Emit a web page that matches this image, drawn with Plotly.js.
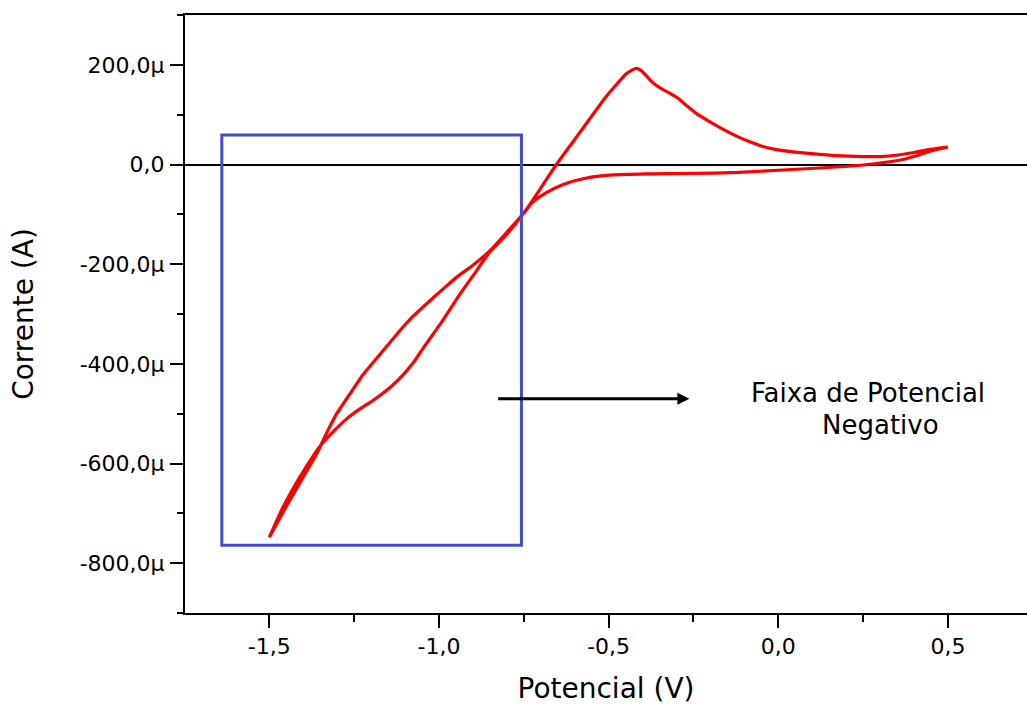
<!DOCTYPE html>
<html>
<head>
<meta charset="utf-8">
<script src="https://cdn.plot.ly/plotly-3.0.1.min.js"></script>
<style>html,body{margin:0;padding:0;background:#fff;}</style>
</head>
<body>
<div id="chart" style="width:1027px;height:709px;"></div>
<script>
// Forward (cathodic) sweep: 0.5 V -> -1.5 V
const forwardV = [0.5, 0.45, 0.40, 0.354, 0.30, 0.251, 0.148, 0.014, -0.119, -0.25, -0.387, -0.49, -0.572, -0.634, -0.685, -0.726, -0.753, -0.80, -0.851, -0.90, -0.94, -0.98, -1.018, -1.077, -1.126, -1.175, -1.224, -1.264, -1.303, -1.332, -1.36, -1.411, -1.46, -1.5];
const forwardI = [35, 27, 16, 8, 3, -1, -6, -11, -16, -18, -19, -21, -28, -40, -57, -77, -100, -136, -174, -202, -222, -245, -268, -305, -342, -382, -422, -462, -502, -540, -580, -640, -698, -748];
// Reverse (anodic) sweep: -1.5 V -> 0.5 V
const reverseV = [-1.5, -1.46, -1.411, -1.37, -1.342, -1.313, -1.273, -1.234, -1.20, -1.175, -1.14, -1.107, -1.075, -1.048, -0.998, -0.94, -0.89, -0.851, -0.80, -0.753, -0.726, -0.69, -0.654, -0.582, -0.51, -0.475, -0.448, -0.43, -0.418, -0.405, -0.39, -0.377, -0.36, -0.346, -0.32, -0.294, -0.27, -0.243, -0.20, -0.161, -0.12, -0.078, -0.04, -0.006, 0.05, 0.097, 0.17, 0.251, 0.30, 0.354, 0.40, 0.436, 0.498];
const reverseI = [-748, -688, -628, -584, -558, -537, -511, -491, -476, -464, -445, -423, -397, -370, -322, -262, -214, -176, -140, -100, -74, -37, 0, 67, 134, 162, 182, 190, 193, 189, 179, 169, 159, 153, 143, 132, 118, 103, 85, 70, 56, 44, 35, 30, 25, 22, 18, 16, 16, 19, 24, 29, 35];

// Axis ticks
const xTickVals = [-1.5, -1.0, -0.5, 0.0, 0.5];
const xTickText = ['-1,5', '-1,0', '-0,5', '0,0', '0,5'];
const xMinorVals = [-1.75, -1.25, -0.75, -0.25, 0.25, 0.75];
const yTickValsMicro = [200, 0, -200, -400, -600, -800];
const yTickText = ['200,0\u00b5', '0,0', '-200,0\u00b5', '-400,0\u00b5', '-600,0\u00b5', '-800,0\u00b5'];
const yMinorValsMicro = [300, 100, -100, -300, -500, -700, -900];

// Annotation content
const boxV = [-1.64, -0.757];
const boxIMicro = [-764, 59];
const arrowV = [-0.830, -0.262];
const arrowIMicro = -470;
const labelLines = ['Faixa de Potencial', 'Negativo'];

const U = 1e-6;
const xs = forwardV.concat(reverseV);
const ys = forwardI.concat(reverseI).map(v => v * U);

const FONT = 'DejaVu Sans, Arial, sans-serif';

const trace = {
  x: xs, y: ys, type: 'scatter', mode: 'lines',
  line: {color: '#ff0000', width: 3.2, shape: 'spline', smoothing: 0.5},
  hoverinfo: 'skip', showlegend: false
};

const layout = {
  width: 1027, height: 709,
  margin: {l: 185, r: 0, t: 15, b: 96, pad: 0},
  paper_bgcolor: '#ffffff', plot_bgcolor: '#ffffff',
  showlegend: false,
  font: {family: FONT, color: '#000000', size: 22},
  xaxis: {
    range: [-1.7485, 0.733],
    tickmode: 'array', tickvals: xTickVals, ticktext: xTickText,
    ticks: 'outside', ticklen: 13, tickwidth: 2, tickcolor: '#000',
    minor: {tickmode: 'array', tickvals: xMinorVals, ticks: 'outside', ticklen: 7, tickwidth: 2, tickcolor: '#000', showgrid: false},
    showline: true, linecolor: '#000', linewidth: 2, mirror: true,
    showgrid: false, zeroline: false,
    tickfont: {family: FONT, size: 22, color: '#000'},
    title: {text: 'Potencial (V)', font: {family: FONT, size: 28, color: '#000'}, standoff: 20}
  },
  yaxis: {
    range: [-900 * U, 300 * U],
    tickmode: 'array', tickvals: yTickValsMicro.map(v => v * U), ticktext: yTickText,
    ticks: 'outside', ticklen: 13, tickwidth: 2, tickcolor: '#000',
    minor: {tickmode: 'array', tickvals: yMinorValsMicro.map(v => v * U), ticks: 'outside', ticklen: 6, tickwidth: 2, tickcolor: '#000', showgrid: false},
    showline: true, linecolor: '#000', linewidth: 2, mirror: false,
    showgrid: false, zeroline: true, zerolinecolor: '#000', zerolinewidth: 2,
    tickfont: {family: FONT, size: 22, color: '#000'},
    ticklabelstandoff: 1,
    title: {text: 'Corrente (A)', font: {family: FONT, size: 28, color: '#000'}, standoff: 38}
  },
  shapes: [{
    type: 'rect', xref: 'x', yref: 'y',
    x0: boxV[0], x1: boxV[1], y0: boxIMicro[0] * U, y1: boxIMicro[1] * U,
    line: {color: 'rgb(68,76,206)', width: 3}, fillcolor: 'rgba(0,0,0,0)', layer: 'above'
  }],
  annotations: [
    {
      xref: 'x', yref: 'y', axref: 'x', ayref: 'y',
      x: arrowV[1], y: arrowIMicro * U, ax: arrowV[0], ay: arrowIMicro * U,
      text: '', showarrow: true, arrowhead: 2, arrowsize: 0.8, arrowwidth: 3, arrowcolor: '#000'
    },
    {
      xref: 'x', yref: 'y', x: 0.263, y: -458 * U, text: labelLines[0], showarrow: false,
      font: {family: FONT, size: 26, color: '#000'}, xanchor: 'center', yanchor: 'middle'
    },
    {
      xref: 'x', yref: 'y', x: 0.301, y: -522 * U, text: labelLines[1], showarrow: false,
      font: {family: FONT, size: 26, color: '#000'}, xanchor: 'center', yanchor: 'middle'
    }
  ]
};

Plotly.newPlot('chart', [trace], layout, {displayModeBar: false, staticPlot: true});
</script>
</body>
</html>
